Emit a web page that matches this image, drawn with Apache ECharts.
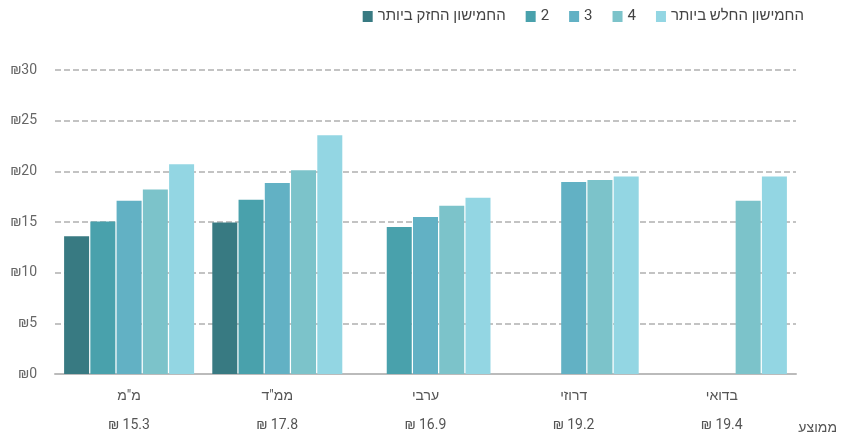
<!DOCTYPE html>
<html lang="he">
<head>
<meta charset="utf-8">
<script src="https://cdn.jsdelivr.net/npm/echarts@6/dist/echarts.min.js"></script>
<style>html,body{margin:0;padding:0;background:#fff}#c{width:843px;height:440px}</style>
</head>
<body>
<div id="c"></div>
<script>
const categories = ['מ"מ', 'ממ"ד', 'ערבי', 'דרוזי', 'בדואי'];
const averages = ['15.3', '17.8', '16.9', '19.2', '19.4'];
const averageLabel = 'ממוצע';
const seriesNames = ['החמישון החזק ביותר', '2', '3', '4', 'החמישון החלש ביותר'];
const q1 = [13.6, 14.95, null, null, null];
const q2 = [15.05, 17.2, 14.5, null, null];
const q3 = [17.1, 18.85, 15.5, 18.95, null];
const q4 = [18.2, 20.1, 16.6, 19.15, 17.1];
const q5 = [20.7, 23.55, 17.4, 19.5, 19.5];
const yTicks = [0, 5, 10, 15, 20, 25, 30];
const colors = ['#387a82', '#49a1ac', '#62b1c4', '#7cc3ca', '#93d6e3'];

const FONT = 'Roboto, "Liberation Sans", "DejaVu Sans", sans-serif';
const allData = [q1, q2, q3, q4, q5];

const chart = echarts.init(document.getElementById('c'), null, {renderer: 'canvas'});
chart.setOption({
  animation: false,
  textStyle: {fontFamily: FONT},
  legend: {
    top: 4,
    right: 34,
    itemWidth: 10,
    itemHeight: 11,
    itemGap: 20,
    icon: 'rect',
    textStyle: {fontSize: 15, color: '#444', fontFamily: FONT},
    data: seriesNames
  },
  grid: {left: 55, right: 47, top: 70, bottom: 62, containLabel: false},
  xAxis: {
    type: 'category',
    data: categories,
    axisTick: {show: false},
    axisLine: {show: true, lineStyle: {color: '#bbbbbb', width: 2}},
    axisLabel: {
      margin: 8,
      fontSize: 14,
      color: '#555',
      lineHeight: 29,
      fontFamily: FONT,
      formatter: function (v, i) { return v + '\n' + '₪ ' + averages[i]; }
    }
  },
  yAxis: {
    type: 'value',
    min: 0,
    max: 30,
    interval: 5,
    axisLine: {show: false},
    axisTick: {show: false},
    axisLabel: {
      margin: 18,
      fontSize: 14,
      color: '#666',
      fontFamily: FONT,
      formatter: function (v) { return yTicks.indexOf(v) >= 0 ? '₪' + v : ''; }
    },
    splitLine: {show: true, lineStyle: {color: '#b0b0b0', width: 1.5, type: [6, 3]}}
  },
  graphic: [{
    type: 'text',
    right: 6,
    top: 421,
    style: {text: averageLabel, fontSize: 14, fill: '#555', font: '14px ' + FONT}
  }],
  series: seriesNames.map(function (name, i) {
    return {
      name: name,
      type: 'bar',
      data: allData[i],
      barWidth: 25,
      barGap: '5%',
      itemStyle: {color: colors[i]},
      emphasis: {disabled: true}
    };
  })
});
</script>
</body>
</html>
